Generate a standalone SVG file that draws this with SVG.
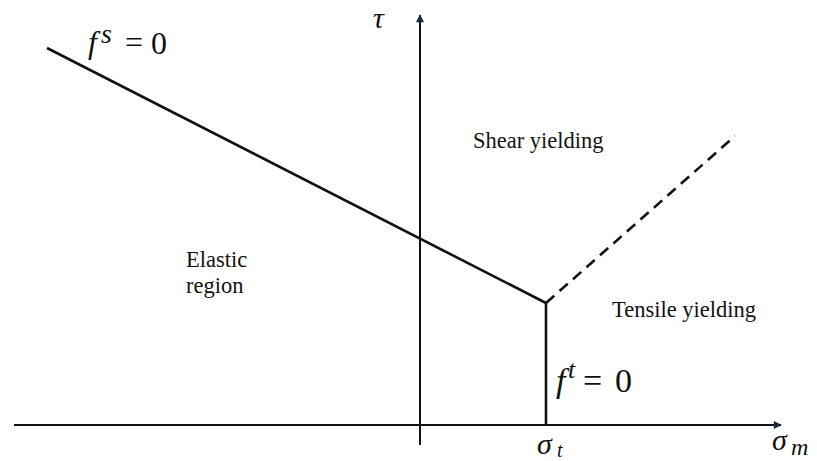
<svg xmlns="http://www.w3.org/2000/svg" width="817" height="461" viewBox="0 0 817 461">
<style>
.ax{stroke:#111;stroke-width:2;fill:none}
.ln{stroke:#111;stroke-width:2.6;fill:none}
.dash{stroke:#111;stroke-width:2.6;fill:none;stroke-dasharray:11 7}
.lbl{font-size:22.5px}
.it{font-style:italic}
</style>
<defs>
<marker id="arr" viewBox="0 0 10 10" refX="9" refY="5" markerWidth="9" markerHeight="8" markerUnits="userSpaceOnUse" orient="auto">
<path d="M0,0 L10,5 L0,10 z" fill="#1a2a3a"/>
</marker>
</defs>
<rect width="817" height="461" fill="#fff"/>
<g id="connectors">
<line id="x-axis" class="ax" x1="14" y1="425" x2="781" y2="425" marker-end="url(#arr)"/>
<line id="y-axis" class="ax" x1="420" y1="445" x2="420" y2="15" marker-end="url(#arr)"/>
<line id="shear-line" class="ln" x1="47" y1="48" x2="546" y2="303"/>
<line id="tension-line" class="ln" x1="546" y1="302" x2="546" y2="425"/>
<line id="shear-dashed" class="dash" x1="546" y1="303" x2="735" y2="136"/>
</g>
<g font-family="Liberation Serif, DejaVu Serif, serif" fill="#111">
<g id="label-fs">
<text font-size="32"><tspan class="it" x="88" y="53">f</tspan><tspan class="it" x="101" y="43" font-size="28">s</tspan><tspan x="125" y="53">=</tspan><tspan x="151" y="54">0</tspan></text>
</g>
<g id="label-tau">
<text class="it" font-size="30" x="373" y="28">τ</text>
</g>
<g id="label-ft">
<text font-size="34"><tspan class="it" x="556" y="392">f</tspan><tspan class="it" x="568" y="378" font-size="26">t</tspan><tspan x="583" y="392">=</tspan><tspan x="615" y="392">0</tspan></text>
</g>
<g id="label-sigma-t">
<text class="it" font-size="30"><tspan x="537" y="454">σ</tspan><tspan x="557" y="457" font-size="20">t</tspan></text>
</g>
<g id="label-sigma-m">
<text class="it" font-size="30"><tspan x="772" y="450">σ</tspan><tspan x="791" y="455" font-size="24">m</tspan></text>
</g>
<g id="elastic-region">
<text class="lbl" x="186" y="267">Elastic</text>
<text class="lbl" x="186" y="293">region</text>
</g>
<g id="shear-yielding">
<text class="lbl" x="473" y="148">Shear yielding</text>
</g>
<g id="tensile-yielding">
<text class="lbl" x="612" y="317">Tensile yielding</text>
</g>
</g>
</svg>
